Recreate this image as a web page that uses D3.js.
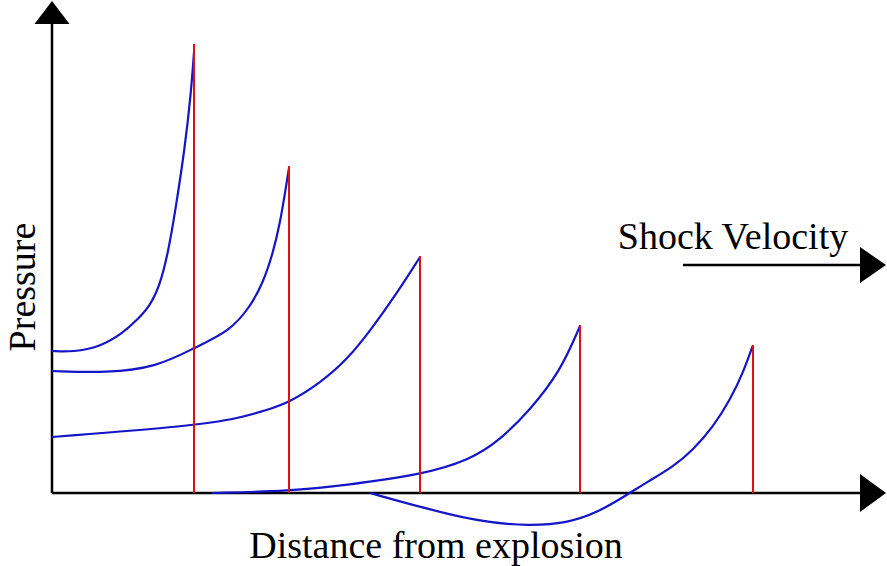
<!DOCTYPE html>
<html>
<head>
<meta charset="utf-8">
<script src="https://cdn.jsdelivr.net/npm/d3@7"></script>
<style>
  body { margin: 0; background: #fff; }
</style>
</head>
<body>
<div class="container"></div>
<script>
// distance / pressure units (arbitrary, schematic)
var shockX = [142, 237, 368, 528, 701];
var shockP = [449, 327, 237, 168, 148];

var wave1 = [[0,142],[21,141],[48,146],[71,160],[85,173],[98,187],[108,208],[116,240],[123,280],[133,346],[139,400],[142,441]];
var wave2 = [[0,122],[55,120],[105,126],[142,145],[178,162],[198,186],[211,210],[221,240],[228,270],[233,300],[237,325]];
var wave3 = [[0,56],[141,67],[188,75],[215,83],[238,91],[268,110],[295,133],[321,166],[345,200],[368,236]];
var wave4 = [[160,0],[238,2],[295,8],[368,18],[418,33],[448,53],[478,83],[508,121],[528,167]];
var wave5 = [[318,0],[368,-14],[428,-29],[478,-33],[515,-30],[545,-20],[578,0],[595,11],[621,26],[641,43],[661,66],[678,93],[691,120],[701,148]];
var waves = [wave1, wave2, wave3, wave4, wave5];

var W = 887, H = 566;
var FONT = 'Liberation Serif';
var x = d3.scaleLinear().domain([0, 835]).range([52, 887]);
var y = d3.scaleLinear().domain([0, 493]).range([493, 0]);

var display = function () {
  var svg = d3.select('.container').append('svg')
    .attr('width', W)
    .attr('height', H);
  drawAxes(svg);
  drawWaves(svg);
  drawShocks(svg);
  drawLabels(svg);
}

var drawAxes = function (svg) {
  // y axis
  svg.append('line')
    .attr('x1', x(0)).attr('y1', y(0))
    .attr('x2', x(0)).attr('y2', 20)
    .attr('stroke', 'black').attr('stroke-width', 2.5);
  svg.append('polygon')
    .attr('points', [[x(0), 1], [x(0) - 17.5, 24], [x(0) + 17.5, 24]].join(' '))
    .attr('fill', 'black');
  // x axis
  svg.append('line')
    .attr('x1', x(0)).attr('y1', y(0))
    .attr('x2', 865).attr('y2', y(0))
    .attr('stroke', 'black').attr('stroke-width', 2.5);
  svg.append('polygon')
    .attr('points', [[886, y(0)], [860, y(0) - 19], [860, y(0) + 19]].join(' '))
    .attr('fill', 'black');
  // shock velocity arrow
  svg.append('line')
    .attr('x1', 683).attr('y1', 265)
    .attr('x2', 865).attr('y2', 265)
    .attr('stroke', 'black').attr('stroke-width', 2.5);
  svg.append('polygon')
    .attr('points', [[886, 265], [860, 247], [860, 283]].join(' '))
    .attr('fill', 'black');
}

var drawWaves = function (svg) {
  var line = d3.line()
    .x(function (d) { return x(d[0]); })
    .y(function (d) { return y(d[1]); })
    .curve(d3.curveBasis);
  svg.selectAll('path.wave')
    .data(waves)
    .enter().append('path')
    .attr('class', 'wave')
    .attr('d', line)
    .attr('fill', 'none')
    .attr('stroke', '#1515c8')
    .attr('stroke-width', 2.2);
}

var drawShocks = function (svg) {
  svg.selectAll('line.shock')
    .data(shockX)
    .enter().append('line')
    .attr('class', 'shock')
    .attr('x1', function (d) { return x(d); })
    .attr('x2', function (d) { return x(d); })
    .attr('y1', y(0))
    .attr('y2', function (d, i) { return y(shockP[i]); })
    .attr('stroke', '#e01010')
    .attr('stroke-width', 2);
}

var drawLabels = function (svg) {
  svg.append('text')
    .attr('x', 436).attr('y', 558)
    .attr('text-anchor', 'middle')
    .attr('font-family', FONT)
    .attr('font-size', 38)
    .text('Distance from explosion');
  svg.append('text')
    .attr('x', 733).attr('y', 249)
    .attr('text-anchor', 'middle')
    .attr('font-family', FONT)
    .attr('font-size', 38)
    .text('Shock Velocity');
  svg.append('text')
    .attr('transform', 'translate(35,287) rotate(-90)')
    .attr('text-anchor', 'middle')
    .attr('font-family', FONT)
    .attr('font-size', 38)
    .text('Pressure');
}

window.onload = display;
</script>
</body>
</html>
